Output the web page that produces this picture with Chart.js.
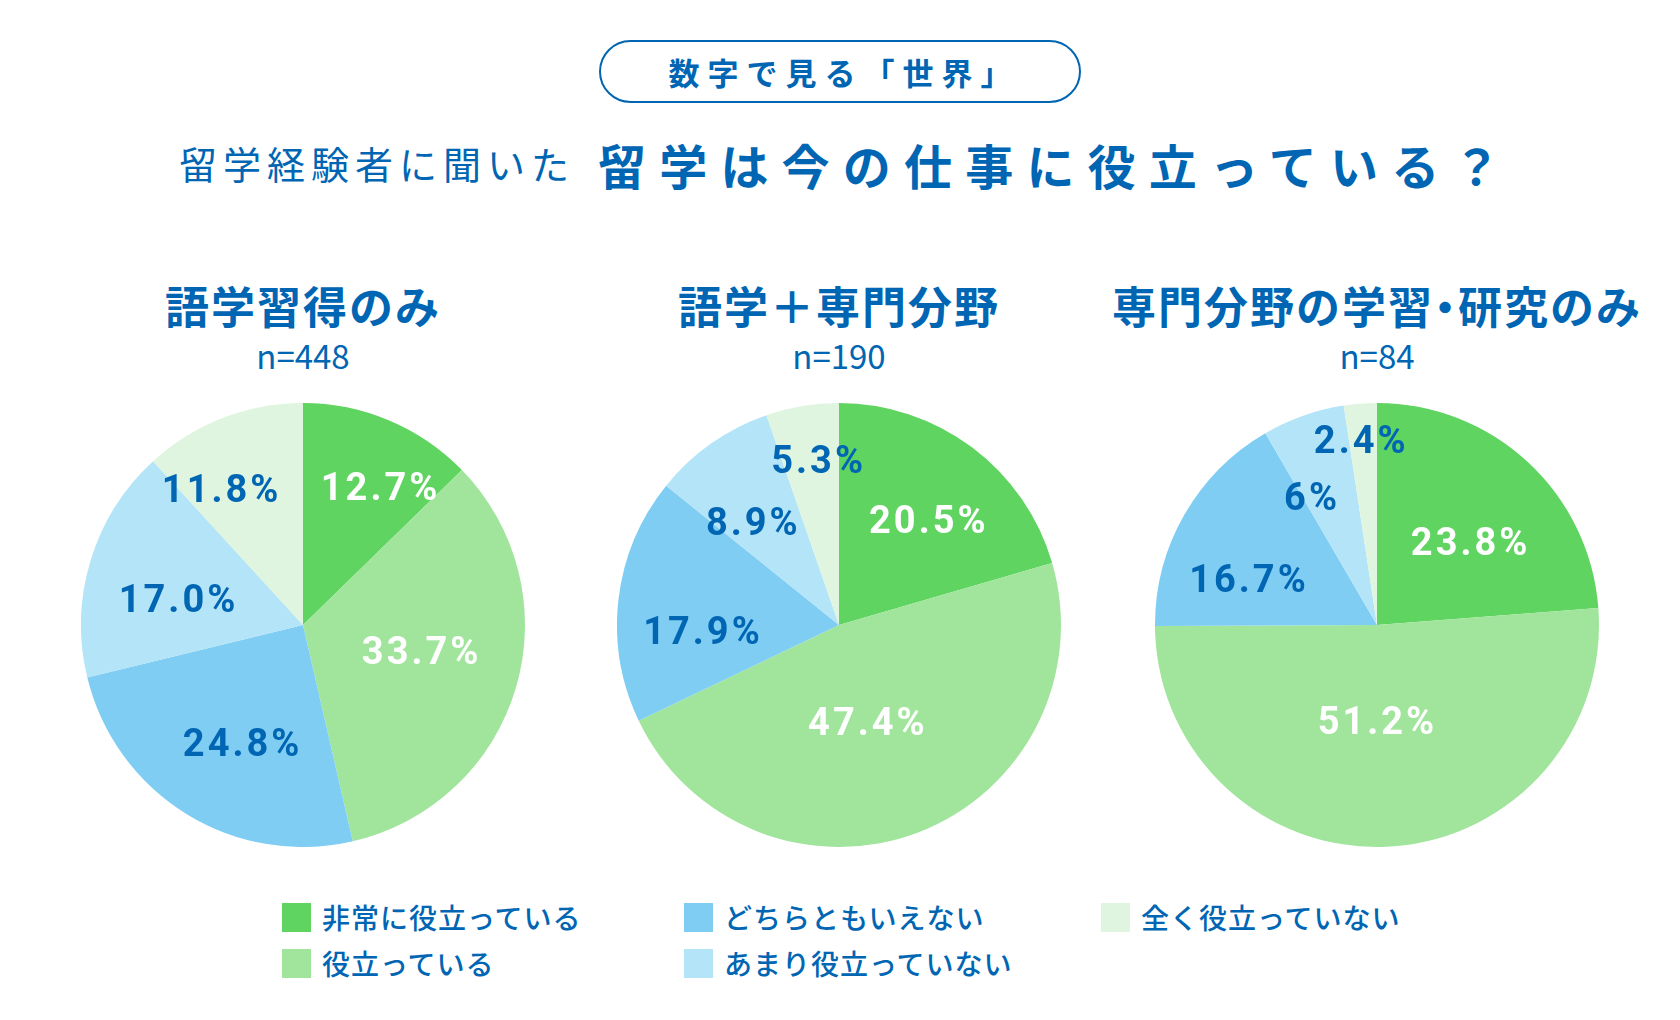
<!DOCTYPE html>
<html lang="ja">
<head>
<meta charset="utf-8">
<title>留学は今の仕事に役立っている？</title>
<script src="https://cdn.jsdelivr.net/npm/chart.js@4.4.1/dist/chart.umd.min.js"></script>
<style>
  body {
    margin: 0;
    width: 1680px;
    height: 1020px;
    background: #fff;
    position: relative;
    overflow: hidden;
    font-family: "Noto Sans CJK JP", "Noto Sans", sans-serif;
    color: #0066b3;
  }
  .badge {
    position: absolute;
    left: 599px;
    top: 40px;
    width: 478px;
    height: 59px;
    border: 2px solid #0066b3;
    border-radius: 32px;
    display: flex;
    align-items: center;
    justify-content: center;
    font-size: 31px;
    font-weight: 700;
    letter-spacing: 8px;
    text-indent: 8px;
  }
  .lead {
    position: absolute;
    left: 179px;
    top: 137px;
    font-size: 38px;
    letter-spacing: 6px;
    line-height: 52px;
  }
  .headline {
    position: absolute;
    left: 598px;
    top: 134px;
    font-size: 48px;
    font-weight: 700;
    letter-spacing: 13.2px;
    line-height: 60px;
  }
  .group {
    position: absolute;
    width: 640px;
    text-align: center;
  }
  .group h2 {
    margin: 0;
    font-size: 44px;
    font-weight: 700;
    letter-spacing: 2px;
    line-height: 56px;
  }
  .group h2 .dot {
    margin: 0 -11px;
  }
  .group p {
    margin: 0;
    font-size: 33px;
    line-height: 44px;
  }
  .pie {
    position: absolute;
    width: 444px;
    height: 444px;
  }
  #legend {
    position: absolute;
    left: 282px;
    top: 901px;
    display: grid;
    grid-template-rows: 46px 46px;
    grid-template-columns: 402px 417px 300px;
    grid-auto-flow: column;
  }
  .item {
    display: flex;
    align-items: center;
    font-size: 28px;
    font-weight: 500;
    letter-spacing: 1px;
    height: 32px;
  }
  .item span.box {
    width: 29px;
    height: 29px;
    margin-right: 11px;
    flex: none;
  }
</style>
</head>
<body>

<div class="badge">数字で見る「世界」</div>
<div class="lead">留学経験者に聞いた</div>
<div class="headline">留学は今の仕事に役立っている？</div>

<div id="groups"></div>
<div id="legend"></div>

<script>
const categories = ["非常に役立っている", "役立っている", "どちらともいえない", "あまり役立っていない", "全く役立っていない"];
const groupTitles = ["語学習得のみ", "語学＋専門分野", "専門分野の学習・研究のみ"];
const sampleSizes = [448, 190, 84];

// 各グループの割合（%）
const langOnly = [12.7, 33.7, 24.8, 17.0, 11.8];
const langAndMajor = [20.5, 47.4, 17.9, 8.9, 5.3];
const majorOnly = [23.8, 51.2, 16.7, 6, 2.4];

// 表示用ラベル
const langOnlyLabels = ["12.7%", "33.7%", "24.8%", "17.0%", "11.8%"];
const langAndMajorLabels = ["20.5%", "47.4%", "17.9%", "8.9%", "5.3%"];
const majorOnlyLabels = ["23.8%", "51.2%", "16.7%", "6%", "2.4%"];

const colors = ["#60d461", "#a1e59d", "#7fcdf3", "#b3e4f7", "#dff5df"];
const labelColors = ["#ffffff", "#ffffff", "#0066b3", "#0066b3", "#0066b3"];

const groups = [
  { values: langOnly, labels: langOnlyLabels, cx: 303, radial: [0.71, 0.54, 0.6, 0.58, 0.72], shift: [6, -4, -4, -5, -10] },
  { values: langAndMajor, labels: langAndMajorLabels, cx: 839, radial: [0.62, 0.45, 0.62, 0.61, 0.75], shift: [3, 5, -9, -5, 2] },
  { values: majorOnly, labels: majorOnlyLabels, cx: 1377, radial: [0.56, 0.43, 0.62, 0.65, 0.84], shift: [5, 3, -10, -8, -1] },
];

// 円グラフの上にパーセント表示
const sliceLabels = {
  id: "sliceLabels",
  afterDatasetsDraw(chart, args, opts) {
    const ctx = chart.ctx;
    const meta = chart.getDatasetMeta(0);
    ctx.save();
    ctx.font = "700 38px Roboto, 'DejaVu Sans', sans-serif";
    if ("letterSpacing" in ctx) ctx.letterSpacing = "3px";
    ctx.textAlign = "center";
    ctx.textBaseline = "middle";
    meta.data.forEach((arc, i) => {
      const p = arc.getProps(["x", "y", "startAngle", "endAngle", "outerRadius"], true);
      const mid = (p.startAngle + p.endAngle) / 2 + (opts.shift[i] * Math.PI) / 180;
      const r = p.outerRadius * opts.radial[i];
      ctx.fillStyle = labelColors[i];
      ctx.fillText(opts.labels[i], p.x + Math.cos(mid) * r + 1.5, p.y + Math.sin(mid) * r + 4);
    });
    ctx.restore();
  },
};

const groupsEl = document.getElementById("groups");

groups.forEach((g, idx) => {
  const head = document.createElement("div");
  head.className = "group";
  head.style.left = g.cx - 320 + "px";
  head.style.top = "277px";
  const title = groupTitles[idx].replace("・", '<span class="dot">・</span>');
  head.innerHTML = `<h2>${title}</h2><p>n=${sampleSizes[idx]}</p>`;
  groupsEl.appendChild(head);

  const wrap = document.createElement("div");
  wrap.className = "pie";
  wrap.style.left = g.cx - 222 + "px";
  wrap.style.top = "403px";
  wrap.innerHTML = `<canvas id="pie-${idx}"></canvas>`;
  groupsEl.appendChild(wrap);

  new Chart(document.getElementById("pie-" + idx), {
    type: "pie",
    data: {
      labels: categories,
      datasets: [
        {
          data: g.values,
          backgroundColor: colors,
          borderWidth: 0,
        },
      ],
    },
    options: {
      responsive: true,
      maintainAspectRatio: false,
      animation: false,
      layout: { padding: 0 },
      plugins: {
        legend: { display: false },
        tooltip: { enabled: false },
        sliceLabels: { labels: g.labels, radial: g.radial, shift: g.shift },
      },
    },
    plugins: [sliceLabels],
  });
});

// 凡例
const legendEl = document.getElementById("legend");
categories.forEach((c, i) => {
  legendEl.innerHTML += `<div class="item"><span class="box" style="background:${colors[i]}"></span>${c}</div>`;
});
</script>
</body>
</html>
